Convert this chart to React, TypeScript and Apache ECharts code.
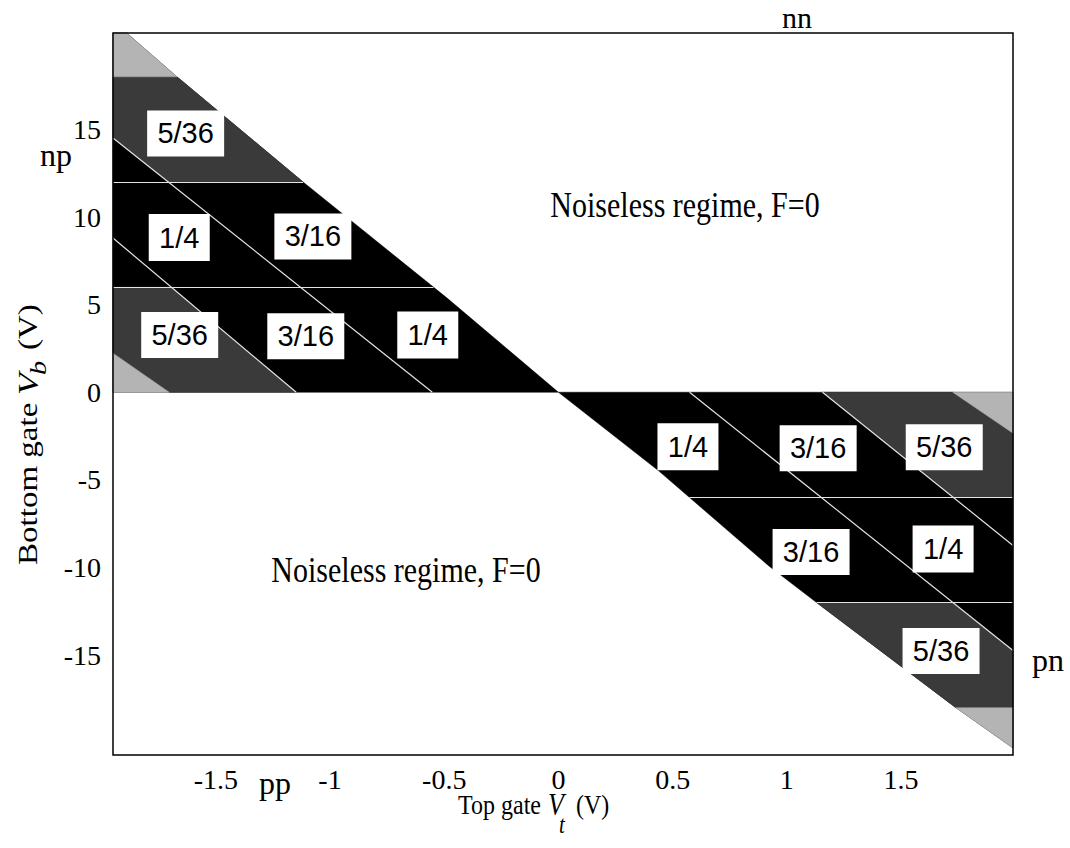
import React, { useEffect, useRef } from "react";
import * as echarts from "echarts";

// Axis ranges (top gate V_t, bottom gate V_b)
const xRange = [-1.95, 1.99];
const yRange = [-20.7, 20.5];
const xTickValues = [-1.5, -1, -0.5, 0, 0.5, 1, 1.5];
const yTickValues = [-15, -10, -5, 0, 5, 10, 15];

// Fano factor levels and their grey shade
const levelNames = ["1/4", "3/16", "5/36", "7/64"];
const levelColors = ["#000000", "#000000", "#3a3a3a", "#b4b4b4"];

// Edge of the noisy region in the np and pn quadrants (V_t, V_b)
const npEdge = [[0, 0], [-0.49, 5.4], [-1.118, 12], [-1.67, 18], [-1.89, 20.5]];
const pnEdge = [[0, 0], [0.44, -4.5], [0.92, -9.9], [1.13, -12], [1.74, -18], [1.99, -20.3]];

// Region polygons (V_t, V_b) and the level each one carries
const npBase = [...npEdge, [-1.95, 20.5], [-1.95, 0]];
const npBand0Grey = [[-1.148, 0], [-1.695, 6], [-1.95, 6], [-1.95, 2.23], [-1.704, 0]];
const npBand0Light = [[-1.95, 0], [-1.704, 0], [-1.95, 2.23]];
const npBand2Grey = [[-1.708, 12], [-1.118, 12], [-1.67, 18], [-1.95, 18], [-1.95, 14.51]];
const npBand3Light = [[-1.95, 18], [-1.67, 18], [-1.89, 20.5], [-1.95, 20.5]];
const pnBase = [...pnEdge, [1.99, 0]];
const pnBand0Grey = [[1.156, 0], [1.726, 0], [1.99, -2.34], [1.99, -6], [1.729, -6]];
const pnBand0Light = [[1.726, 0], [1.99, 0], [1.99, -2.34]];
const pnBand2Grey = [[1.13, -12], [1.727, -12], [1.99, -14.74], [1.99, -18], [1.74, -18]];
const pnBand3Light = [[1.74, -18], [1.99, -18], [1.99, -20.3]];

const regionVertices = [
  npBase, npBand0Grey, npBand0Light, npBand2Grey, npBand3Light,
  pnBase, pnBand0Grey, pnBand0Light, pnBand2Grey, pnBand3Light,
];
const regionLevel = [0, 2, 3, 2, 3, 0, 2, 3, 2, 3];

// Thin dividing lines between plateaus
const dividers = [
  [[-1.95, 6], [-0.547, 6]],
  [[-1.95, 12], [-1.118, 12]],
  [[-0.552, 0], [-1.95, 14.51]],
  [[-1.148, 0], [-1.95, 8.8]],
  [[0.573, -6], [1.99, -6]],
  [[1.13, -12], [1.99, -12]],
  [[0.574, 0], [1.99, -14.74]],
  [[1.156, 0], [1.99, -8.74]],
];

// Boxed plateau labels
const labelText = ["5/36", "1/4", "3/16", "5/36", "3/16", "1/4", "1/4", "3/16", "5/36", "3/16", "1/4", "5/36"];
const labelVt = [-1.632, -1.66, -1.075, -1.658, -1.106, -0.572, 0.567, 1.137, 1.689, 1.106, 1.684, 1.675];
const labelVb = [14.77, 8.83, 8.89, 3.26, 3.2, 3.26, -3.11, -3.2, -3.14, -9.11, -8.94, -14.77];

const SERIF = '"Liberation Serif", "Times New Roman", serif';
const SANS = '"Liberation Sans", Arial, sans-serif';

function txt(text: string, x: number, y: number, font: string, extra: any = {}) {
  return {
    type: "text",
    x,
    y,
    silent: true,
    ...extra,
    style: {
      text,
      font,
      fill: "#000",
      align: extra.align || "center",
      verticalAlign: "middle",
      textAlign: extra.align || "center",
      textVerticalAlign: "middle",
    },
  };
}

export default function App() {
  const ref = useRef<HTMLDivElement>(null);
  useEffect(() => {
    if (!ref.current) return;
    const chart = echarts.init(ref.current, null, { renderer: "svg" });
    const option: any = {
      animation: false,
      backgroundColor: "#ffffff",
      grid: {
        left: 113,
        top: 33,
        width: 900,
        height: 722,
        show: true,
        borderColor: "#000",
        borderWidth: 1.5,
        backgroundColor: "transparent",
        z: 5,
      },
      xAxis: {
        type: "value",
        min: xRange[0],
        max: xRange[1],
        axisLine: { show: false },
        axisTick: { show: false },
        splitLine: { show: false },
        axisLabel: {
          customValues: xTickValues,
          formatter: (v: number) => String(v),
          fontFamily: SERIF,
          fontSize: 28,
          color: "#000",
          margin: 10,
        },
      },
      yAxis: {
        type: "value",
        min: yRange[0],
        max: yRange[1],
        axisLine: { show: false },
        axisTick: { show: false },
        splitLine: { show: false },
        axisLabel: {
          customValues: yTickValues,
          formatter: (v: number) => String(v),
          fontFamily: SERIF,
          fontSize: 28,
          color: "#000",
          margin: 12,
        },
      },
      series: [
        {
          type: "custom",
          coordinateSystem: "cartesian2d",
          silent: true,
          z: 1,
          data: regionVertices.map((pts, i) => [pts[0][0], pts[0][1], i]),
          renderItem: (_p: any, api: any) => {
            const i = api.value(2);
            const color = levelColors[regionLevel[i]];
            const pts = regionVertices[i].map((p) => api.coord(p));
            return {
              type: "polygon",
              shape: { points: pts },
              style: { fill: color, stroke: color, lineWidth: 0.5 },
            };
          },
        },
        {
          type: "lines",
          coordinateSystem: "cartesian2d",
          silent: true,
          z: 2,
          symbol: "none",
          lineStyle: { color: "#e4e4e4", width: 1.2, opacity: 1 },
          data: dividers.map((c) => ({ coords: c })),
        },
        {
          type: "scatter",
          silent: true,
          z: 3,
          symbol: "rect",
          itemStyle: { color: "#ffffff", opacity: 1 },
          data: labelText.map((t, i) => ({
            value: [labelVt[i], labelVb[i]],
            name: t,
            symbolSize: t.length > 3 ? [77, 46] : [61, 47],
          })),
          label: {
            show: true,
            position: "inside",
            formatter: (p: any) => p.name,
            fontFamily: SANS,
            fontSize: 29,
            color: "#000",
          },
        },
      ],
      graphic: [
        txt("Noiseless regime, F=0", 685, 205, `30px ${SERIF}`, { scaleY: 1.18 }),
        txt("Noiseless regime, F=0", 406, 570, `30px ${SERIF}`, { scaleY: 1.18 }),
        txt("nn", 797, 17, `30px ${SERIF}`),
        txt("np", 56, 155, `32px ${SERIF}`),
        txt("pp", 275, 783, `32px ${SERIF}`),
        txt("pn", 1048, 660, `32px ${SERIF}`),
        // x-axis title
        txt("Top gate", 541, 805, `24px ${SERIF}`, { align: "right", scaleY: 1.18 }),
        txt("V", 548, 805, `italic 26px ${SERIF}`, { align: "left", scaleY: 1.18 }),
        txt("t", 559, 825, `italic 21px ${SERIF}`, { align: "left", scaleY: 1.18 }),
        txt("(V)", 576, 805, `24px ${SERIF}`, { align: "left", scaleY: 1.18 }),
        // y-axis title
        {
          type: "group",
          x: 28,
          y: 565,
          rotation: Math.PI / 2,
          children: [
            txt("Bottom gate", 0, 0, `28px ${SERIF}`, { align: "left", scaleX: 1.18 }),
            txt("V", 170, 0, `italic 30px ${SERIF}`, { align: "left", scaleX: 1.18 }),
            txt("b", 190, 10, `italic 24px ${SERIF}`, { align: "left", scaleX: 1.18 }),
            txt("(V)", 215, 0, `28px ${SERIF}`, { align: "left", scaleX: 1.18 }),
          ],
        },
      ],
    };
    chart.setOption(option);
    return () => chart.dispose();
  }, []);
  return (
    <div
      ref={ref}
      style={{ position: "fixed", left: 0, top: 0, width: 1070, height: 848, background: "#fff" }}
    />
  );
}
